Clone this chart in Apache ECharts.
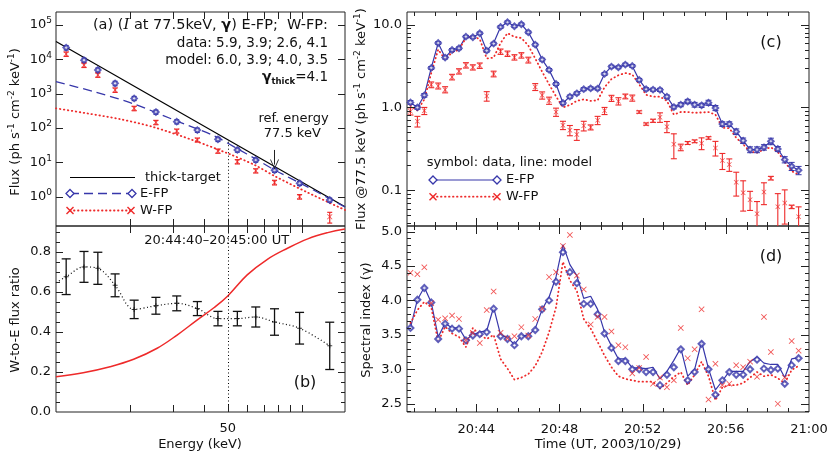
<!DOCTYPE html>
<html><head><meta charset="utf-8">
<script src="https://cdn.jsdelivr.net/npm/echarts@6/dist/echarts.min.js"></script>
<style>html,body{margin:0;padding:0;background:#fff}#c{width:830px;height:454px}</style>
</head><body><div id="c"></div>
<script>
// ---------------- Panel (a)/(b): spectra at 20:44:40-20:45:00 ----------------
const energyKeV = [11, 13, 14.8, 17.4, 20.8, 25.5, 31, 37.6, 45.6, 54.7, 65, 77.5, 98, 130];
const fluxEFP = [2.2e4, 9.5e3, 4.9e3, 2.0e3, 731, 292, 153, 87, 47, 23, 11.7, 5.9, 2.45, 0.8];
const fluxEFPErr = [3300, 1400, 700, 300, 100, 40, 21, 12, 6.5, 3.2, 1.6, 0.8, 0.33, 0.11];
const fluxWFP = [1.43e4, 6.8e3, 3.5e3, 1.28e3, 374, 146, 82, 45, 21.4, 10.5, 5.7, 2.6, 1.0, 0.26];
const fluxWFPErr = [2100, 1000, 500, 190, 55, 21, 11, 6, 3, 1.5, 0.8, 0.4, 0.15, 0.09];
const thickE = [10, 150];
const thickFlux = [3.3e4, 0.51];
const modelEFP_E = [10, 14.3, 20.8, 30.3, 44.2, 55, 65, 77.5, 106, 150];
const modelEFP_F = [2240, 1143, 500, 171, 58.5, 24.5, 12.5, 6.0, 1.9, 0.5];
const modelWFP_E = [10, 13.4, 18.4, 25.1, 36.6, 50, 64.4, 77.5, 106, 150];
const modelWFP_F = [374, 267, 179, 105, 42.8, 18.3, 8.36, 4.0, 1.31, 0.41];
const ratioWE = [0.675, 0.724, 0.717, 0.632, 0.512, 0.53, 0.542, 0.516, 0.466, 0.466, 0.474, 0.449, 0.418, 0.33];
const ratioWEErr = [0.089, 0.077, 0.08, 0.057, 0.046, 0.042, 0.037, 0.035, 0.036, 0.036, 0.05, 0.066, 0.079, 0.118];
const ratioLineStartE = 10, ratioLineStart = 0.645;
const modelRatioE = [10, 12.9, 16.6, 20.7, 25.8, 31.1, 37.6, 43.9, 50, 60, 72.5, 87.5, 105.8, 127.6, 150];
const modelRatio = [0.176, 0.196, 0.226, 0.263, 0.318, 0.384, 0.46, 0.52, 0.579, 0.684, 0.762, 0.817, 0.864, 0.895, 0.913];
const refEnergy = 77.5, splitEnergy = 50;
const energyTicks = [20, 30, 40, 50, 60, 70, 80, 90, 100];
const energyTickLabels = [50];
const fluxTicks = [1, 10, 100, 1000, 10000, 100000];
const ratioTicks = [0, 0.2, 0.4, 0.6, 0.8];

// ---------------- Panel (c)/(d): time profiles ----------------
const times = ['20:40:50','20:41:10','20:41:30','20:41:50','20:42:10','20:42:30','20:42:50','20:43:10','20:43:30','20:43:50',
 '20:44:10','20:44:30','20:44:50','20:45:10','20:45:30','20:45:50','20:46:10','20:46:30','20:46:50','20:47:10',
 '20:47:30','20:47:50','20:48:10','20:48:30','20:48:50','20:49:10','20:49:30','20:49:50','20:50:10','20:50:30',
 '20:50:50','20:51:10','20:51:30','20:51:50','20:52:10','20:52:30','20:52:50','20:53:10','20:53:30','20:53:50',
 '20:54:10','20:54:30','20:54:50','20:55:10','20:55:30','20:55:50','20:56:10','20:56:30','20:56:50','20:57:10',
 '20:57:30','20:57:50','20:58:10','20:58:30','20:58:50','20:59:10','20:59:30'];
const flux77E = [1.15,1.00,1.40,3.0,6.0,4.0,4.94,5.18,7.16,7.03,7.86,4.85,5.9,9.37,10.7,9.55,10.1,8.07,5.73,3.78,
 2.84,1.92,1.13,1.35,1.48,1.66,1.70,1.69,2.54,3.11,3.05,3.29,3.17,2.15,1.66,1.64,1.63,1.35,1.01,1.08,
 1.18,1.08,1.06,1.14,0.985,0.63,0.63,0.51,0.397,0.309,0.309,0.33,0.39,0.315,0.234,0.195,0.174];
const flux77EErr = [0.06,0.05,0.07,0.12,0.22,0.16,0.2,0.2,0.25,0.25,0.28,0.19,0.22,0.33,0.38,0.34,0.36,0.3,0.22,0.15,
 0.11,0.08,0.05,0.06,0.06,0.07,0.07,0.07,0.1,0.12,0.12,0.13,0.12,0.09,0.07,0.07,0.07,0.06,0.05,0.06,
 0.07,0.07,0.06,0.08,0.07,0.04,0.04,0.04,0.03,0.025,0.025,0.025,0.035,0.022,0.02,0.022,0.02];
const flux77EModel = [1.15,1.0,1.4,3.0,6.0,4.0,4.94,5.18,7.16,7.03,7.86,4.85,6.0,9.37,10.7,9.55,10.1,8.07,5.73,3.78,
 2.84,1.92,1.13,1.35,1.48,1.66,1.70,1.69,2.54,3.11,3.05,3.29,3.17,2.15,1.66,1.64,1.63,1.35,1.01,1.08,
 1.18,1.08,1.06,1.14,0.985,0.63,0.63,0.51,0.397,0.309,0.309,0.33,0.39,0.315,0.234,0.195,0.174];
const flux77W = [0.90,0.68,0.91,1.88,1.82,1.64,2.33,2.73,3.23,3.05,3.2,1.37,2.54,4.72,4.46,4.03,4.26,3.74,1.77,1.40,
 1.21,0.88,0.61,0.53,0.47,0.60,0.575,0.70,0.91,1.29,1.19,1.36,1.30,0.88,0.63,0.69,0.76,0.586,0.36,0.33,
 0.372,0.39,0.369,0.428,0.324,0.228,0.204,0.125,0.093,0.077,0.052,0.095,0.14,0.063,0.070,0.063,0.048];
const flux77WErr = [0.09,0.1,0.09,0.15,0.15,0.14,0.18,0.2,0.24,0.22,0.24,0.18,0.2,0.35,0.33,0.3,0.32,0.3,0.17,0.14,
 0.12,0.1,0.07,0.075,0.07,0.08,0.04,0.08,0.09,0.11,0.12,0.09,0.11,0.03,0.02,0.03,0.1,0.09,0.12,0.03,
 0.015,0.015,0.06,0.015,0.065,0.05,0.035,0.04,0.037,0.02,0.021,0.028,0.007,0.028,0.031,0.003,0.015];
const flux77WModel = [1.05,0.92,1.25,2.6,5.0,3.8,4.6,5.0,6.9,7.2,6.7,3.9,4.0,6.0,7.9,7.1,6.9,5.6,3.9,2.7,
 1.9,1.36,1.0,1.07,1.2,1.25,1.2,1.22,1.75,2.2,2.45,2.6,2.5,1.9,1.42,1.35,1.35,1.2,0.82,0.88,
 0.88,0.86,0.87,0.88,0.82,0.57,0.56,0.43,0.36,0.29,0.285,0.31,0.33,0.29,0.22,0.17,0.155];
const gammaE = [3.60,4.01,4.18,3.97,3.44,3.66,3.59,3.59,3.42,3.49,3.51,3.54,3.88,3.48,3.44,3.35,3.48,3.48,3.57,3.87,
 4.00,4.27,4.70,4.41,4.25,3.95,3.95,3.80,3.52,3.31,3.12,3.12,3.00,3.00,2.96,2.96,2.77,2.92,3.03,3.29,
 2.84,2.96,3.37,3.00,2.63,2.84,2.96,2.92,2.92,3.00,3.14,3.01,2.99,3.01,2.79,3.06,3.16];
const gammaEModel = [3.60,4.01,4.19,3.97,3.47,3.67,3.60,3.60,3.43,3.50,3.54,3.56,3.90,3.50,3.46,3.36,3.49,3.49,3.59,3.87,
 4.05,4.34,4.81,4.52,4.36,4.03,4.06,3.87,3.54,3.34,3.15,3.15,3.02,3.02,3.01,3.03,2.86,2.97,3.13,3.31,
 2.90,3.00,3.40,3.01,2.70,2.83,2.97,2.97,2.97,3.11,3.18,3.09,3.07,3.07,2.88,3.15,3.17];
const gammaW = [4.40,4.38,4.48,3.96,3.72,3.74,3.78,3.73,3.42,3.53,3.38,3.86,4.13,3.53,3.45,3.48,3.61,3.49,3.73,3.88,
 4.34,4.41,4.79,4.95,4.36,4.16,3.65,3.76,3.76,3.55,3.35,3.32,2.94,3.02,3.18,2.79,2.88,2.74,2.84,3.60,
 3.16,3.29,3.87,2.56,3.08,2.77,2.79,3.06,3.03,3.11,2.89,3.76,3.25,2.50,2.88,3.41,3.27];
const gammaWModel = [3.67,3.86,3.98,3.90,3.40,3.62,3.52,3.47,3.32,3.60,3.50,3.44,3.50,3.15,3.01,2.85,2.88,2.93,3.05,3.25,
 3.54,3.90,4.56,4.29,4.14,3.73,3.59,3.40,3.20,3.03,2.90,2.86,2.84,2.82,2.82,2.82,2.72,2.80,2.89,2.96,
 2.77,2.92,3.11,2.90,2.55,2.74,2.77,2.77,2.80,2.88,2.96,2.90,2.92,2.87,2.80,2.99,3.05];
const timeTickLabels = ['20:44','20:48','20:52','20:56','21:00'];
const timeStart = '20:40:40', timeEnd = '21:00:00';
const flux77Ticks = [0.1, 1, 10];
const gammaTicks = [2.5, 3.0, 3.5, 4.0, 4.5, 5.0];

// ---------------- helpers ----------------
const FONT = '"DejaVu Sans", sans-serif';
const FS = 13;
const BLUE = '#3737aa', RED = '#ee2a2a', INK = '#111', AX = '#222';
const XPATH = 'path://M1,0 L5,4 L9,0 L10,1 L6,5 L10,9 L9,10 L5,6 L1,10 L0,9 L4,5 L0,1 Z';
function tsec(s){ const p = s.split(':').map(Number); while (p.length < 3) p.push(0); return (p[0]-20)*3600 + (p[1]-40)*60 + p[2]; }
const tS = times.map(tsec);
const tMin = tsec(timeStart), tMax = tsec(timeEnd);
const timeMajor = timeTickLabels.map(tsec);
const timeMinor = []; for (let s = 60; s < tMax; s += 60) if (s % 240 !== 0 && s > tMin) timeMinor.push(s);
const cMinor = []; [0.01, 0.1, 1].forEach(d => { for (let m = 2; m <= 9; m++) cMinor.push(+(d*m).toFixed(3)); });
const gMinor = []; for (let i = 24; i <= 50; i++) if (i % 5 !== 0) gMinor.push(i/10);
const rMinor = []; for (let i = 1; i <= 18; i++) if (i % 4 !== 0) rMinor.push(+(i*0.05).toFixed(2));
const pts = (xs, ys) => xs.map((x, i) => [x, ys[i]]);
const inside = (vals, lo, hi) => vals.filter(v => v > lo && v < hi);

const lbl = o => Object.assign({ show: true, color: INK, fontSize: FS, fontFamily: FONT }, o);
function mkAxis(type, grid, pos, min, max, labels) {
  const a = { type, gridIndex: grid, position: pos, min, max,
    axisLine: { show: false, onZero: false }, splitLine: { show: false }, minorTick: { show: false },
    axisTick: { show: false }, axisPointer: { show: false },
    axisLabel: labels ? lbl(labels) : { show: false } };
  if (type === 'log') a.logBase = 10;
  return a;
}
// inward tick marks on both opposite frame edges, placed through the axis scale
function tickSeries(gi, dir, vals, len, ref) {
  return { type: 'custom', xAxisIndex: gi, yAxisIndex: gi, silent: true, clip: false, z: 6,
    data: vals.map(v => dir === 'x' ? [v, ref] : [ref, v]), encode: { x: 0, y: 1 },
    renderItem(params, api) {
      const cs = params.coordSys, p = api.coord([api.value(0), api.value(1)]);
      const st = { stroke: AX, lineWidth: 1 };
      if (dir === 'x') {
        const x = Math.round(p[0]) + 0.5, b = cs.y + cs.height, t = cs.y;
        return { type: 'group', children: [
          { type: 'line', shape: { x1: x, y1: b, x2: x, y2: b - len }, style: st },
          { type: 'line', shape: { x1: x, y1: t, x2: x, y2: t + len }, style: st } ] };
      }
      const y = Math.round(p[1]) + 0.5, l = cs.x, r = cs.x + cs.width;
      return { type: 'group', children: [
        { type: 'line', shape: { x1: l, y1: y, x2: l + len, y2: y }, style: st },
        { type: 'line', shape: { x1: r, y1: y, x2: r - len, y2: y }, style: st } ] };
    } };
}
function errSeries(gi, xs, ys, es, color, cap, lw) {
  return { type: 'custom', xAxisIndex: gi, yAxisIndex: gi, silent: true, clip: true, z: 3,
    data: xs.map((x, i) => [x, Math.max(ys[i] - es[i], 1e-4), ys[i] + es[i]]),
    encode: { x: 0, y: [1, 2] },
    renderItem(params, api) {
      const x = api.value(0);
      const lo = api.coord([x, api.value(1)]), hi = api.coord([x, api.value(2)]);
      const st = { stroke: color, lineWidth: lw, fill: null };
      return { type: 'group', children: [
        { type: 'line', shape: { x1: lo[0], y1: lo[1], x2: hi[0], y2: hi[1] }, style: st },
        { type: 'line', shape: { x1: lo[0]-cap, y1: lo[1], x2: lo[0]+cap, y2: lo[1] }, style: st },
        { type: 'line', shape: { x1: hi[0]-cap, y1: hi[1], x2: hi[0]+cap, y2: hi[1] }, style: st }
      ]};
    } };
}
const supRich = {
  b: { fontSize: FS, fontFamily: FONT, color: INK, lineHeight: 17 },
  s: { fontSize: 9, fontFamily: FONT, color: INK, verticalAlign: 'top', lineHeight: 9 }
};
function txt(x, y, text, o) {
  return { type: 'text', x, y, z: 100, silent: true,
    style: Object.assign({ text, fill: INK, fontSize: FS, fontFamily: FONT, align: 'left', verticalAlign: 'middle' }, o || {}) };
}
const gRich = {
  s: { fontSize: 9, fontFamily: FONT, fill: INK, verticalAlign: 'top', lineHeight: 9 },
  n: { fontSize: FS, fontFamily: FONT, fill: INK, lineHeight: 17 }
};
function diamond(x, y) { return { type: 'polygon', z: 101, shape: { points: [[x, y-4], [x+4, y], [x, y+4], [x-4, y]] }, style: { stroke: BLUE, fill: '#fff', lineWidth: 1.3 } }; }
function xmark(x, y) { return { type: 'group', z: 101, children: [
  { type: 'line', shape: { x1: x-3.5, y1: y-3.5, x2: x+3.5, y2: y+3.5 }, style: { stroke: RED, lineWidth: 1.4 } },
  { type: 'line', shape: { x1: x-3.5, y1: y+3.5, x2: x+3.5, y2: y-3.5 }, style: { stroke: RED, lineWidth: 1.4 } } ] }; }
function hline(x1, x2, y, color, dash, w) { return { type: 'line', z: 100, shape: { x1, y1: y, x2, y2: y }, style: { stroke: color, lineWidth: w || 1.2, lineDash: dash || null, lineCap: dash && dash[0] < 1 ? 'round' : 'butt' } }; }

const chart = echarts.init(document.getElementById('c'), null, { renderer: 'canvas' });
const fmtTime = v => { const m = 20*60 + 40 + Math.round(v/60); return Math.floor(m/60) + ':' + String(m % 60).padStart(2, '0'); };
const gridBase = { show: true, borderColor: AX, borderWidth: 1, backgroundColor: 'transparent', outerBoundsMode: 'none' };

const option = {
  animation: false,
  backgroundColor: '#fff',
  grid: [
    Object.assign({ left: 56, top: 12, width: 289, height: 214 }, gridBase),
    Object.assign({ left: 56, top: 226, width: 289, height: 186 }, gridBase),
    Object.assign({ left: 407, top: 12, width: 402, height: 214 }, gridBase),
    Object.assign({ left: 407, top: 226, width: 402, height: 186 }, gridBase)
  ],
  xAxis: [
    mkAxis('log', 0, 'bottom', 10, 150),
    mkAxis('log', 1, 'bottom', 10, 150, { customValues: energyTickLabels, formatter: v => String(Math.round(v)), margin: 10 }),
    mkAxis('value', 2, 'bottom', tMin, tMax),
    mkAxis('value', 3, 'bottom', tMin, tMax, { customValues: timeMajor, formatter: fmtTime, margin: 11 })
  ],
  yAxis: [
    mkAxis('log', 0, 'left', 0.14, 2.4e5, { customValues: fluxTicks, formatter: v => '{b|10}{s|' + Math.round(Math.log10(v)) + '}', rich: supRich, margin: 4 }),
    mkAxis('value', 1, 'left', 0, 0.928, { customValues: ratioTicks, formatter: v => v.toFixed(1), margin: 5 }),
    mkAxis('log', 2, 'left', 0.037, 14.2, { customValues: flux77Ticks, formatter: v => v.toFixed(1), margin: 5 }),
    mkAxis('value', 3, 'left', 2.38, 5.08, { customValues: gammaTicks, formatter: v => v.toFixed(1), margin: 5 })
  ],
  series: [
    // ---- ticks
    tickSeries(0, 'x', energyTicks, 7, 1),
    tickSeries(0, 'y', inside(fluxTicks, 0.14, 2.4e5), 7, 20),
    tickSeries(1, 'x', energyTicks, 7, 0.5),
    tickSeries(1, 'y', inside(ratioTicks, 0, 0.928), 7, 20),
    tickSeries(1, 'y', inside(rMinor, 0, 0.928), 4, 20),
    tickSeries(2, 'x', inside(timeMajor, tMin, tMax), 8, 1),
    tickSeries(2, 'x', inside(timeMinor, tMin, tMax), 4, 1),
    tickSeries(2, 'y', inside(flux77Ticks, 0.037, 14.2), 8, 600),
    tickSeries(2, 'y', inside(cMinor, 0.037, 14.2), 4, 600),
    tickSeries(3, 'x', inside(timeMajor, tMin, tMax), 8, 3),
    tickSeries(3, 'x', inside(timeMinor, tMin, tMax), 4, 3),
    tickSeries(3, 'y', inside(gammaTicks, 2.38, 5.08), 8, 600),
    tickSeries(3, 'y', inside(gMinor, 2.38, 5.08), 4, 600),
    // ---- (a)
    { type: 'line', xAxisIndex: 0, yAxisIndex: 0, data: pts(thickE, thickFlux), symbol: 'none', silent: true,
      lineStyle: { color: '#000', width: 1.2 }, z: 2,
      markLine: { silent: true, symbol: ['none', 'path://M0,9 L5,0 L10,9 L9,9 L5,2 L1,9 Z'], symbolSize: [9, 10],
        label: { show: false }, lineStyle: { color: AX, type: 'solid', width: 1 },
        data: [[{ coord: [refEnergy, 23] }, { coord: [refEnergy, 8.6] }]] } },
    { type: 'line', xAxisIndex: 0, yAxisIndex: 0, data: pts(modelEFP_E, modelEFP_F), symbol: 'none', smooth: 0.3, silent: true,
      lineStyle: { color: BLUE, width: 1.3, type: [9, 5] }, z: 2 },
    { type: 'line', xAxisIndex: 0, yAxisIndex: 0, data: pts(modelWFP_E, modelWFP_F), symbol: 'none', smooth: 0.3, silent: true,
      lineStyle: { color: RED, width: 1.8, type: [0.5, 3.5], cap: 'round' }, z: 2,
      markLine: { silent: true, symbol: ['none', 'none'], label: { show: false }, lineStyle: { color: '#000', type: [1, 2.5], width: 1 },
        data: [[{ coord: [splitEnergy, 40] }, { coord: [splitEnergy, 0.14] }]] } },
    errSeries(0, energyKeV, fluxEFP, fluxEFPErr, BLUE, 2.5, 1.2),
    errSeries(0, energyKeV, fluxWFP, fluxWFPErr, RED, 2.5, 1.2),
    { type: 'scatter', xAxisIndex: 0, yAxisIndex: 0, data: pts(energyKeV, fluxEFP), symbol: 'emptyDiamond', symbolSize: 5.5, silent: true,
      itemStyle: { color: BLUE, borderWidth: 1.6 }, z: 4 },
    { type: 'scatter', xAxisIndex: 0, yAxisIndex: 0, data: pts(energyKeV, fluxWFP), symbol: XPATH, symbolSize: 5.5, silent: true,
      itemStyle: { color: RED }, z: 4 },
    // ---- (b)
    { type: 'line', xAxisIndex: 1, yAxisIndex: 1, data: [[ratioLineStartE, ratioLineStart]].concat(pts(energyKeV, ratioWE)), symbol: 'none', smooth: 0.35, silent: true,
      lineStyle: { color: '#000', width: 1.2, type: [1, 2.5] }, z: 2 },
    { type: 'line', xAxisIndex: 1, yAxisIndex: 1, data: pts(modelRatioE, modelRatio), symbol: 'none', smooth: 0.4, silent: true,
      lineStyle: { color: RED, width: 1.5 }, z: 2,
      markLine: { silent: true, symbol: ['none', 'none'], label: { show: false }, lineStyle: { color: '#000', type: [1, 2.5], width: 1 },
        data: [{ xAxis: splitEnergy }] } },
    errSeries(1, energyKeV, ratioWE, ratioWEErr, '#111', 4.5, 1.3),
    { type: 'scatter', xAxisIndex: 1, yAxisIndex: 1, data: pts(energyKeV, ratioWE), symbol: 'path://M4,0 L6,0 L6,4 L10,4 L10,6 L6,6 L6,10 L4,10 L4,6 L0,6 L0,4 L4,4 Z', symbolSize: 5, silent: true,
      itemStyle: { color: '#111' }, z: 4 },
    // ---- (c)
    { type: 'line', xAxisIndex: 2, yAxisIndex: 2, data: pts(tS, flux77EModel), symbol: 'none', silent: true,
      lineStyle: { color: BLUE, width: 1.2 }, z: 2 },
    { type: 'line', xAxisIndex: 2, yAxisIndex: 2, data: pts(tS, flux77WModel), symbol: 'none', silent: true,
      lineStyle: { color: RED, width: 1.8, type: [0.5, 3.5], cap: 'round' }, z: 2 },
    errSeries(2, tS, flux77E, flux77EErr, BLUE, 3, 1),
    errSeries(2, tS, flux77W, flux77WErr, RED, 3, 1.1),
    { type: 'scatter', xAxisIndex: 2, yAxisIndex: 2, data: pts(tS, flux77E), symbol: 'emptyDiamond', symbolSize: 5.5, silent: true,
      itemStyle: { color: BLUE, borderWidth: 1.1 }, z: 4 },
    { type: 'scatter', xAxisIndex: 2, yAxisIndex: 2, data: pts(tS, flux77W), symbol: XPATH, symbolSize: 5, silent: true,
      itemStyle: { color: RED }, z: 4 },
    // ---- (d)
    { type: 'line', xAxisIndex: 3, yAxisIndex: 3, data: pts(tS, gammaEModel), symbol: 'none', silent: true,
      lineStyle: { color: BLUE, width: 1.2 }, z: 2 },
    { type: 'line', xAxisIndex: 3, yAxisIndex: 3, data: pts(tS, gammaWModel), symbol: 'none', silent: true,
      lineStyle: { color: RED, width: 1.8, type: [0.5, 3.5], cap: 'round' }, z: 2 },
    { type: 'scatter', xAxisIndex: 3, yAxisIndex: 3, data: pts(tS, gammaE), symbol: 'emptyDiamond', symbolSize: 6, silent: true,
      itemStyle: { color: BLUE, borderWidth: 1.1 }, z: 4 },
    { type: 'scatter', xAxisIndex: 3, yAxisIndex: 3, data: pts(tS, gammaW), symbol: XPATH, symbolSize: 6, silent: true,
      itemStyle: { color: RED }, z: 4 }
  ],
  graphic: [
    // axis names (rotated ones: indices 0,1,3,4)
    txt(16, 122, '{n|Flux (ph s}{s|-1}{n| cm}{s|-2}{n| keV}{s|-1}{n|)}', { align: 'center', rich: gRich }),
    txt(16, 320, 'W-to-E flux ratio', { align: 'center' }),
    txt(200, 445, 'Energy (keV)', { align: 'center' }),
    txt(362, 119, '{n|Flux @77.5 keV (ph s}{s|-1}{n| cm}{s|-2}{n| keV}{s|-1}{n|)}', { align: 'center', rich: gRich }),
    txt(367, 320, 'Spectral index (γ)', { align: 'center' }),
    txt(608, 445, 'Time (UT, 2003/10/29)', { align: 'center' }),
    // panel (a) annotations
    txt(328, 25.5, '{n|(a) (}{i|I}{n| at 77.5keV, }{g|γ}{n|) E-FP;  W-FP:}', { align: 'right',
      rich: { n: { fontSize: 14.5, fontFamily: FONT, fill: INK }, i: { fontSize: 15, fontFamily: '"DejaVu Serif", serif', fontStyle: 'italic', fill: INK }, g: { fontSize: 14.5, fontFamily: FONT, fontWeight: 'bold', fill: INK } } }),
    txt(328, 43, 'data: 5.9, 3.9; 2.6, 4.1', { align: 'right', fontSize: 13.5 }),
    txt(328, 60.5, 'model: 6.0, 3.9; 4.0, 3.5', { align: 'right', fontSize: 13.5 }),
    txt(328, 77, '{g|γ}{t|thick}{n|=4.1}', { align: 'right',
      rich: { g: { fontSize: 14, fontFamily: FONT, fontWeight: 'bold', fill: INK, lineHeight: 18 }, t: { fontSize: 8.5, fontFamily: FONT, fontWeight: 'bold', fill: INK, verticalAlign: 'bottom', lineHeight: 12 }, n: { fontSize: 13.5, fontFamily: FONT, fill: INK, lineHeight: 18 } } }),
    txt(293.5, 118.3, 'ref. energy', { align: 'center' }),
    txt(292.3, 133.5, '77.5 keV', { align: 'center' }),
    // legend (a)
    hline(70, 135, 177.5, '#000', null, 1.2), txt(145, 177.5, 'thick-target'),
    hline(70, 132, 193.5, BLUE, [9, 5], 1.3), diamond(70, 193.5), diamond(132, 193.5), txt(140, 193.5, 'E-FP'),
    hline(70, 131, 210.5, RED, [0.5, 3.5], 1.8), xmark(70, 210.5), xmark(131, 210.5), txt(140, 210.5, 'W-FP'),
    // panel (b)
    txt(216.7, 240.7, '20:44:40–20:45:00 UT', { align: 'center' }),
    txt(305, 383.3, '(b)', { align: 'center', fontSize: 16 }),
    // panel (c)
    txt(771, 43.3, '(c)', { align: 'center', fontSize: 16 }),
    txt(426.7, 162.3, 'symbol: data, line: model'),
    hline(433, 497, 180, BLUE, null, 1.2), diamond(433, 180), diamond(497, 180), txt(506, 180, 'E-FP'),
    hline(433, 497, 196.7, RED, [0.5, 3.5], 1.8), xmark(433, 196.7), xmark(497, 196.7), txt(506, 196.7, 'W-FP'),
    // panel (d)
    txt(771, 256.7, '(d)', { align: 'center', fontSize: 16 })
  ]
};
[0, 1, 3, 4].forEach(i => { option.graphic[i].rotation = Math.PI / 2; });
chart.setOption(option);
</script></body></html>
